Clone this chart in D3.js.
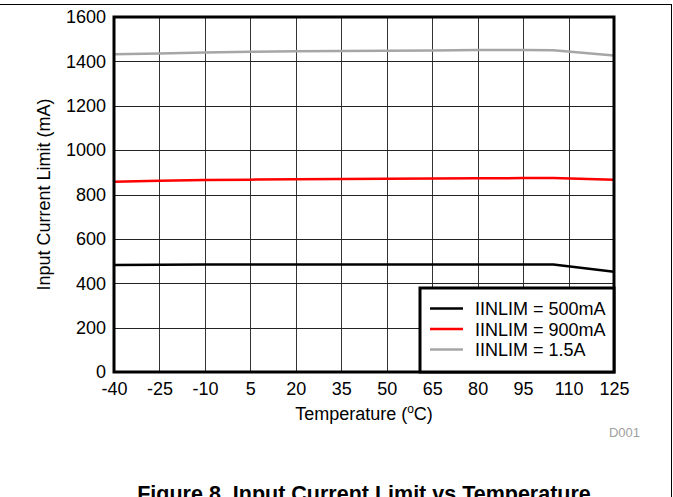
<!DOCTYPE html>
<html>
<head>
<meta charset="utf-8">
<script src="https://cdn.jsdelivr.net/npm/d3@7"></script>
<style>
  html, body { margin: 0; padding: 0; background: #fff; }
  svg { display: block; font-family: "Liberation Sans", Arial, sans-serif; }
</style>
</head>
<body>
<svg id="chart" width="673" height="497"></svg>
<script>
// temperature (C) sample points
const temps = [-40, -25, -10, 5, 20, 35, 50, 65, 80, 95, 105, 125];
// input current limit (mA) per setting
const lim500 = [482, 483, 484, 484, 485, 485, 485, 485, 485, 485, 485, 452];
const lim900 = [858, 862, 865, 867, 869, 870, 871, 872, 873, 874, 874, 866];
const lim1500 = [1432, 1436, 1440, 1443, 1446, 1447, 1448, 1449, 1451, 1451, 1450, 1427];

const xTicks = [-40, -25, -10, 5, 20, 35, 50, 65, 80, 95, 110, 125];
const yTicks = [0, 200, 400, 600, 800, 1000, 1200, 1400, 1600];

const seriesNames = ['IINLIM = 500mA', 'IINLIM = 900mA', 'IINLIM = 1.5A'];
const seriesColors = ['#000000', '#ff0000', '#a6a6a6'];
const seriesData = [lim500, lim900, lim1500];

const FONT = '"Liberation Sans", Arial, sans-serif';
const svg = d3.select('#chart');
const L = 114, R = 614, T = 17, B = 372;

const x = d3.scaleLinear().domain([-40, 125]).range([L, R]);
const y = d3.scaleLinear().domain([0, 1600]).range([B, T]);

// outer page frame (top + right)
svg.append('line').attr('x1', 0).attr('x2', 671).attr('y1', 4.5).attr('y2', 4.5)
  .attr('stroke', '#000').attr('stroke-width', 1);
svg.append('line').attr('x1', 671.5).attr('x2', 671.5).attr('y1', 4).attr('y2', 497)
  .attr('stroke', '#000').attr('stroke-width', 1);

// grid
const grid = svg.append('g');
grid.selectAll('.vg').data(xTicks.slice(1, -1)).join('line')
  .attr('x1', d => Math.round(x(d)) + 0.5).attr('x2', d => Math.round(x(d)) + 0.5)
  .attr('y1', T).attr('y2', B)
  .attr('stroke', '#333').attr('stroke-width', 1);
grid.selectAll('.hg').data(yTicks.slice(1, -1)).join('line')
  .attr('y1', d => Math.round(y(d)) + 0.5).attr('y2', d => Math.round(y(d)) + 0.5)
  .attr('x1', L).attr('x2', R)
  .attr('stroke', '#222').attr('stroke-width', 1);

// axes (labels only)
const xAxis = svg.append('g').attr('transform', `translate(0,${B})`)
  .call(d3.axisBottom(x).tickValues(xTicks).tickSize(0).tickPadding(10).tickFormat(d => String(d)));
xAxis.select('.domain').remove();
xAxis.attr('font-family', FONT).attr('font-size', 18);
xAxis.selectAll('text').attr('fill', '#000');

const yAxis = svg.append('g').attr('transform', `translate(${L},0)`)
  .call(d3.axisLeft(y).tickValues(yTicks).tickSize(0).tickPadding(8).tickFormat(d => String(d)));
yAxis.select('.domain').remove();
yAxis.attr('font-family', FONT).attr('font-size', 18);
yAxis.selectAll('text').attr('fill', '#000');

// series lines
const line = d3.line().x((d, i) => x(temps[i])).y(d => y(d));
svg.append('g').selectAll('path').data(seriesData).join('path')
  .attr('d', d => line(d))
  .attr('fill', 'none')
  .attr('stroke', (d, i) => seriesColors[i])
  .attr('stroke-width', 2.5);

// plot frame
svg.append('rect').attr('x', L).attr('y', T).attr('width', R - L).attr('height', B - T)
  .attr('fill', 'none').attr('stroke', '#000').attr('stroke-width', 3);

// legend
const lg = svg.append('g').attr('font-family', FONT);
lg.append('rect').attr('x', 420).attr('y', 288).attr('width', R - 420).attr('height', B - 288)
  .attr('fill', '#fff').attr('stroke', '#000').attr('stroke-width', 3);
seriesNames.forEach((name, i) => {
  const ly = 308.5 + i * 20.5;
  lg.append('line').attr('x1', 430).attr('x2', 463).attr('y1', ly).attr('y2', ly)
    .attr('stroke', seriesColors[i]).attr('stroke-width', 2.5);
  lg.append('text').attr('x', 475).attr('y', ly + 6.5).attr('font-size', 18)
    .attr('fill', '#000').text(name);
});

// axis titles
svg.append('text').attr('transform', `translate(50,${(T + B) / 2}) rotate(-90)`)
  .attr('text-anchor', 'middle').attr('font-size', 18).text('Input Current Limit (mA)');

const xt = svg.append('text').attr('x', (L + R) / 2).attr('y', 420)
  .attr('text-anchor', 'middle').attr('font-size', 18);
xt.append('tspan').text('Temperature (');
xt.append('tspan').attr('font-size', 12).attr('dy', -7).text('o');
xt.append('tspan').attr('dy', 7).text('C)');

svg.append('text').attr('x', 640).attr('y', 437).attr('text-anchor', 'end')
  .attr('font-size', 13).attr('fill', '#a0a0a0').text('D001');

svg.append('text').attr('x', 364).attr('y', 501).attr('text-anchor', 'middle')
  .attr('font-size', 21.5).attr('font-weight', 'bold')
  .text('Figure 8. Input Current Limit vs Temperature');
</script>
</body>
</html>
